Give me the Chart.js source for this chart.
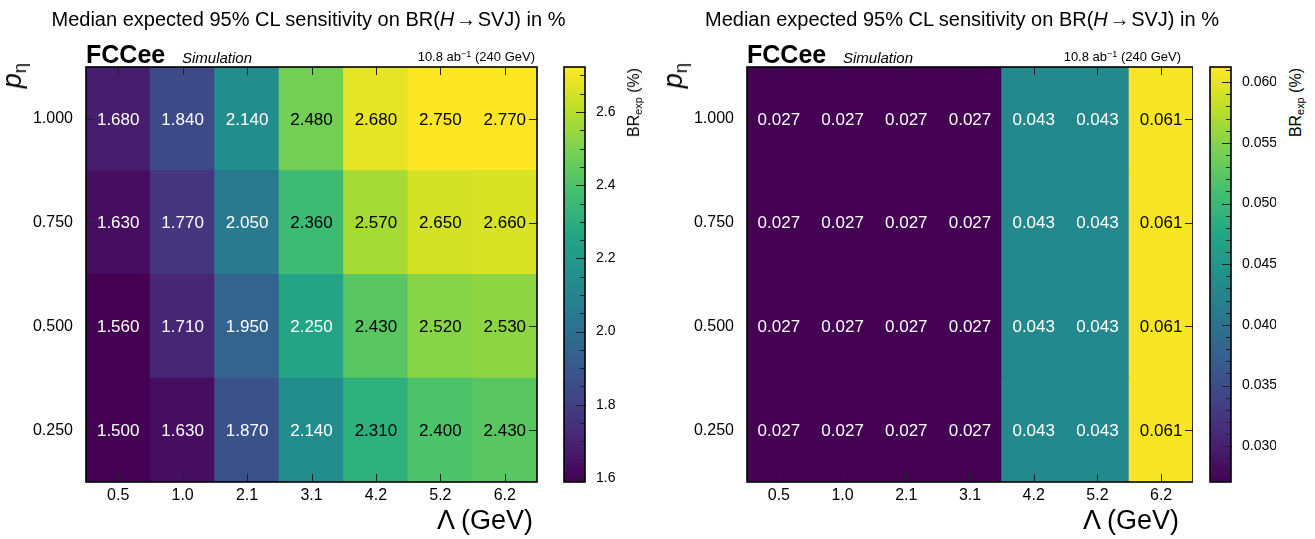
<!DOCTYPE html>
<html>
<head>
<meta charset="utf-8">
<script src="https://cdn.jsdelivr.net/npm/chart.js@4.4.0/dist/chart.umd.min.js"></script>
<style>
  body { margin: 0; background: #fff; width: 1315px; height: 539px; overflow: hidden; position: relative;
         font-family: 'Liberation Sans', Arial, sans-serif; color: #000; }
  canvas { position: absolute; top: 0; }
  .t { position: absolute; white-space: nowrap; line-height: 1; }
  .t sub { font-size: 0.68em; vertical-align: -0.28em; line-height: 0; }
  .t sup { font-size: 0.7em; vertical-align: 0.45em; line-height: 0; }
</style>
</head>
<body>
<script>
// --- DATA ---
const lambdaLabels = ['0.5', '1.0', '2.1', '3.1', '4.2', '5.2', '6.2'];
const pEta = [0.25, 0.5, 0.75, 1.0];

// left panel, BR_exp (%) per p_eta row
const brA_p025 = [1.500, 1.630, 1.870, 2.140, 2.310, 2.400, 2.430];
const brA_p050 = [1.560, 1.710, 1.950, 2.250, 2.430, 2.520, 2.530];
const brA_p075 = [1.630, 1.770, 2.050, 2.360, 2.570, 2.650, 2.660];
const brA_p100 = [1.680, 1.840, 2.140, 2.480, 2.680, 2.750, 2.770];

// right panel
const brB_p025 = [0.027, 0.027, 0.027, 0.027, 0.043, 0.043, 0.061];
const brB_p050 = [0.027, 0.027, 0.027, 0.027, 0.043, 0.043, 0.061];
const brB_p075 = [0.027, 0.027, 0.027, 0.027, 0.043, 0.043, 0.061];
const brB_p100 = [0.027, 0.027, 0.027, 0.027, 0.043, 0.043, 0.061];

// colour scale ranges and palette tick labels
const zRangeA = [1.589, 2.723];
const zRangeB = [0.02705, 0.06125];
const cbTicksA = [1.6, 1.8, 2.0, 2.2, 2.4, 2.6];
const cbTicksB = [0.030, 0.035, 0.040, 0.045, 0.050, 0.055, 0.060];

const viridisStops = ['#440154', '#482475', '#414487', '#355f8d', '#2a788e', '#21918c',
                      '#22a884', '#44bf70', '#7ad151', '#bddf26', '#fde725'];

Chart.defaults.font.family = "'Liberation Sans', Arial, sans-serif";
Chart.defaults.color = '#000';

function hex2rgb(h) { return [1, 3, 5].map(i => parseInt(h.substr(i, 2), 16)); }
function viridis(t) {
  t = Math.max(0, Math.min(1, t));
  const n = viridisStops.length - 1;
  const k = Math.min(n - 1, Math.floor(t * n));
  const f = t * n - k;
  const a = hex2rgb(viridisStops[k]), b = hex2rgb(viridisStops[k + 1]);
  const c = a.map((v, i) => Math.round(v + (b[i] - v) * f));
  return `rgb(${c[0]},${c[1]},${c[2]})`;
}

const H = 515;
const halfBin = (pEta[1] - pEta[0]) / 2;

function addCanvas(left, width) {
  const cv = document.createElement('canvas');
  cv.width = width; cv.height = H;
  cv.style.left = left + 'px';
  cv.style.width = width + 'px'; cv.style.height = H + 'px';
  document.body.appendChild(cv);
  return cv.getContext('2d');
}

function text(html, x, baseY, fs, extra) {
  const d = document.createElement('div');
  d.className = 't';
  d.innerHTML = html;
  d.style.fontSize = fs + 'px';
  d.style.left = x + 'px';
  d.style.top = (baseY - 0.8465 * fs) + 'px';
  if (extra) Object.assign(d.style, extra);
  document.body.appendChild(d);
  return d;
}

// rotated text, reading bottom to top, its end at (x, topY)
function vtext(html, baseX, topY, fs) {
  const d = document.createElement('div');
  d.className = 't';
  d.innerHTML = html;
  d.style.fontSize = fs + 'px';
  d.style.left = (baseX - 0.8465 * fs) + 'px';
  d.style.top = topY + 'px';
  d.style.transformOrigin = '0 0';
  d.style.transform = 'rotate(-90deg) translateX(-100%)';
  document.body.appendChild(d);
}

function heatmap(p, rows, zr) {
  const W = p.plot.r + 10 - p.x0;
  const norm = v => (v - zr[0]) / (zr[1] - zr[0]);
  const decor = {
    id: 'decor',
    afterDatasetsDraw(chart) {
      const ctx = chart.ctx, ca = chart.chartArea;
      const xs = chart.scales.x, ys = chart.scales.y;
      ctx.save();
      ctx.font = "17px 'Liberation Sans', Arial, sans-serif";
      ctx.textAlign = 'center';
      ctx.textBaseline = 'middle';
      rows.forEach((vals, j) => {
        chart.getDatasetMeta(j).data.forEach((el, i) => {
          ctx.fillStyle = norm(vals[i]) > 0.6 ? '#000' : '#fff';
          ctx.fillText(vals[i].toFixed(3), el.x, (el.y + el.base) / 2 + 1);
        });
      });
      ctx.strokeStyle = '#222';
      ctx.lineWidth = 1;
      ctx.beginPath();
      lambdaLabels.forEach((_, i) => {
        const px = Math.round(xs.getPixelForValue(i)) + 0.5;
        ctx.moveTo(px, ca.bottom); ctx.lineTo(px, ca.bottom - 8);
        ctx.moveTo(px, ca.top); ctx.lineTo(px, ca.top + 8);
      });
      pEta.forEach(v => {
        const py = Math.round(ys.getPixelForValue(v)) + 0.5;
        ctx.moveTo(ca.left, py); ctx.lineTo(ca.left + 8, py);
        ctx.moveTo(ca.right, py); ctx.lineTo(ca.right - 8, py);
      });
      ctx.stroke();
      ctx.strokeStyle = '#000';
      ctx.lineWidth = 1.6;
      ctx.strokeRect(ca.left, ca.top, ca.right - ca.left, ca.bottom - ca.top);
      ctx.restore();
    }
  };
  new Chart(addCanvas(p.x0, W), {
    type: 'bar',
    data: {
      labels: lambdaLabels,
      datasets: rows.map((vals, j) => ({
        data: vals.map(() => [pEta[j] - halfBin, pEta[j] + halfBin]),
        backgroundColor: vals.map(v => viridis(norm(v))),
        grouped: false, barPercentage: 1, categoryPercentage: 1,
        borderWidth: 0, inflateAmount: 0.6
      }))
    },
    options: {
      responsive: false, animation: false, devicePixelRatio: 1,
      layout: { padding: { top: p.plot.t, right: W - p.plot.r, left: 0, bottom: 0 } },
      plugins: { legend: { display: false }, tooltip: { enabled: false } },
      scales: {
        x: {
          grid: { display: false }, border: { display: false },
          ticks: { font: { size: 16 }, padding: -4 },
          afterFit: s => { s.height = H - p.plot.b; }
        },
        y: {
          type: 'linear', min: pEta[0] - halfBin, max: pEta[pEta.length - 1] + halfBin,
          grid: { display: false }, border: { display: false },
          afterBuildTicks: s => { s.ticks = pEta.map(v => ({ value: v })); },
          ticks: { font: { size: 16 }, padding: 5, callback: v => Number(v).toFixed(3) },
          afterFit: s => { s.width = p.plot.l - p.x0; }
        }
      }
    },
    plugins: [decor]
  });
}

function colorbar(p, zr, cbTicks, dec, minorStep) {
  const x0 = p.cb.l - 4, W = 70;
  const frame = {
    id: 'cbframe',
    afterDatasetsDraw(chart) {
      const ctx = chart.ctx, ca = chart.chartArea, ys = chart.scales.y;
      ctx.save();
      ctx.strokeStyle = '#222';
      ctx.lineWidth = 1;
      ctx.beginPath();
      const k0 = Math.ceil(zr[0] / minorStep - 1e-6), k1 = Math.floor(zr[1] / minorStep + 1e-6);
      for (let k = k0; k <= k1; k++) {
        const py = Math.round(ys.getPixelForValue(k * minorStep)) + 0.5;
        ctx.moveTo(ca.right, py); ctx.lineTo(ca.right - 5, py);
      }
      cbTicks.forEach(v => {
        const py = Math.round(ys.getPixelForValue(v)) + 0.5;
        ctx.moveTo(ca.right + 1, py); ctx.lineTo(ca.right - 9, py);
      });
      ctx.stroke();
      ctx.strokeStyle = '#000';
      ctx.lineWidth = 1.6;
      ctx.strokeRect(ca.left, ca.top, ca.right - ca.left, ca.bottom - ca.top);
      ctx.restore();
    }
  };
  new Chart(addCanvas(x0, W), {
    type: 'bar',
    data: {
      labels: [''],
      datasets: [{
        data: [[zr[0], zr[1]]],
        backgroundColor: c => {
          const ca = c.chart.chartArea;
          if (!ca) return viridisStops[5];
          const g = c.chart.ctx.createLinearGradient(0, ca.bottom, 0, ca.top);
          viridisStops.forEach((col, k) => g.addColorStop(k / (viridisStops.length - 1), col));
          return g;
        },
        barPercentage: 1, categoryPercentage: 1, borderWidth: 0
      }]
    },
    options: {
      responsive: false, animation: false, devicePixelRatio: 1,
      layout: { padding: { top: p.plot.t, bottom: H - p.plot.b, left: 4, right: 0 } },
      plugins: { legend: { display: false }, tooltip: { enabled: false } },
      scales: {
        x: { display: false },
        y: {
          position: 'right', min: zr[0], max: zr[1],
          grid: { display: false }, border: { display: false },
          afterBuildTicks: s => { s.ticks = cbTicks.map(v => ({ value: v })); },
          ticks: { font: { size: 14 }, padding: 3, callback: v => Number(v).toFixed(dec) },
          afterFit: s => { s.width = W - (p.cb.r - x0); }
        }
      }
    },
    plugins: [frame]
  });
}

function panel(p, rows, zr, cbTicks, dec, minorStep) {
  heatmap(p, rows, zr);
  colorbar(p, zr, cbTicks, dec, minorStep);
  const cx = (p.plot.l + p.plot.r) / 2 - 3;
  text('Median expected 95% CL sensitivity on BR(<i>H</i>&#8202;&#8594;&#8202;SVJ) in %', cx, 26, 20,
       { transform: 'translateX(-50%)' });
  text('<b>FCCee</b>', p.plot.l, 63, 25);
  text('<i>Simulation</i>', p.plot.l + 96, 63, 15);
  text('10.8 ab<sup>&#8722;1</sup> (240 GeV)', p.plot.r - 2, 61, 13, { transform: 'translateX(-100%)' });
  text('&#923; (GeV)', p.plot.r - 4, 530, 27, { transform: 'translateX(-100%)' });
  vtext('<i>p</i><sub>&#951;</sub>', p.pBase, 63, 27);
  vtext('BR<sub>exp</sub> (%)', p.brBase, 68, 16);
}

const layoutA = { x0: 0, plot: { l: 86, t: 67, r: 537, b: 482 }, cb: { l: 564, r: 585 }, pBase: 22, brBase: 640 };
const layoutB = { x0: 661, plot: { l: 747, t: 67, r: 1183, b: 482 }, cb: { l: 1210, r: 1231 }, pBase: 683, brBase: 1302 };

panel(layoutA, [brA_p025, brA_p050, brA_p075, brA_p100], zRangeA, cbTicksA, 1, 0.05);
panel(layoutB, [brB_p025, brB_p050, brB_p075, brB_p100], zRangeB, cbTicksB, 3, 0.001);
</script>
</body>
</html>
